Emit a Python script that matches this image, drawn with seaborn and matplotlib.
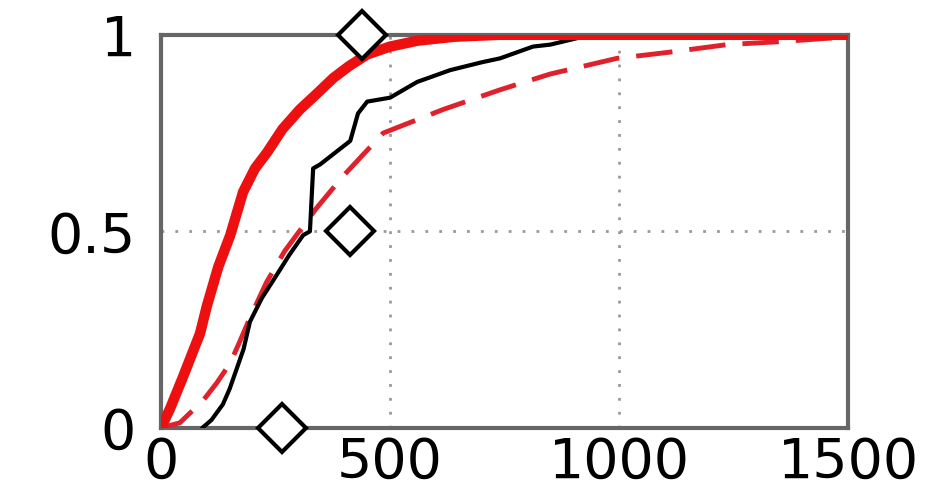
import numpy as np
import pandas as pd
import matplotlib
matplotlib.use("Agg")
import matplotlib.pyplot as plt
import seaborn as sns

# Values
red_solid_x = [0, 20, 48, 85, 100, 125, 151, 179, 205, 231, 265, 303, 340, 376, 410, 450, 500, 560, 640, 740, 1500]
red_solid_y = [0, 0.05, 0.13, 0.24, 0.31, 0.41, 0.49, 0.60, 0.66, 0.70, 0.76, 0.81, 0.85, 0.89, 0.92, 0.95, 0.97, 0.985, 0.995, 1.0, 1.0]

black_x = [90, 110, 135, 150, 165, 180, 194, 220, 253, 280, 310, 325, 332, 347, 380, 413, 430, 450, 500, 559, 631, 700, 740, 812, 850, 921, 1000, 1500]
black_y = [0, 0.02, 0.06, 0.10, 0.15, 0.20, 0.27, 0.33, 0.39, 0.44, 0.49, 0.50, 0.66, 0.67, 0.70, 0.73, 0.80, 0.83, 0.84, 0.88, 0.91, 0.93, 0.94, 0.97, 0.975, 0.995, 1.0, 1.0]

red_dash_x = [0, 41, 92, 122, 151, 172, 194, 230, 270, 340, 397, 485, 616, 740, 849, 995, 1105, 1236, 1358, 1467, 1500]
red_dash_y = [0, 0.013, 0.07, 0.115, 0.165, 0.22, 0.28, 0.37, 0.45, 0.56, 0.64, 0.75, 0.81, 0.86, 0.90, 0.94, 0.955, 0.975, 0.983, 0.992, 0.995]

marker_x = [265, 413, 439]
marker_y = [0, 0.5, 1]

x_ticks = [0, 500, 1000, 1500]
y_ticks = [0, 0.5, 1]
y_ticklabels = ["0", "0.5", "1"]

sns.set_style("white")
plt.rcParams['font.family'] = ['DejaVu Sans']

fig = plt.figure(figsize=(9.53, 5.04), dpi=100)
ax = fig.add_axes([0.169, 0.151, 0.721, 0.780])

# dotted grid lines only at the inner ticks
ax.grid(False)
for gx in [500, 1000]:
    ax.axvline(gx, color='#999999', linestyle=(0, (1, 4)), linewidth=2, zorder=0)
ax.axhline(0.5, color='#999999', linestyle=(0, (1, 4)), linewidth=2, zorder=0)

sns.lineplot(x=red_dash_x, y=red_dash_y, ax=ax, color='#e0202a', linewidth=3.5,
             linestyle=(0, (7.5, 3.5)), zorder=3)
sns.lineplot(x=black_x, y=black_y, ax=ax, color='black', linewidth=3, zorder=4)
sns.lineplot(x=red_solid_x, y=red_solid_y, ax=ax, color='#ee1010', linewidth=7.5, zorder=5)

ax.plot(marker_x, marker_y, linestyle='none', marker='D', markersize=24,
        markerfacecolor='white', markeredgecolor='black', markeredgewidth=3,
        clip_on=False, zorder=6)

ax.set_xlim(0, 1500)
ax.set_ylim(0, 1)
ax.set_xticks(x_ticks)
ax.set_yticks(y_ticks)
ax.set_xticklabels([str(t) for t in x_ticks])
ax.set_yticklabels(y_ticklabels)
ax.tick_params(axis='both', direction='in', length=6, width=2, color='#555555',
               labelsize=40, labelcolor='black')
ax.tick_params(axis='x', pad=6)
ax.tick_params(axis='y', pad=18)
for side in ['top', 'right', 'bottom', 'left']:
    ax.spines[side].set_visible(True)
    ax.spines[side].set_color('#666666')
    ax.spines[side].set_linewidth(3)

fig.savefig("out.png", dpi=100)
